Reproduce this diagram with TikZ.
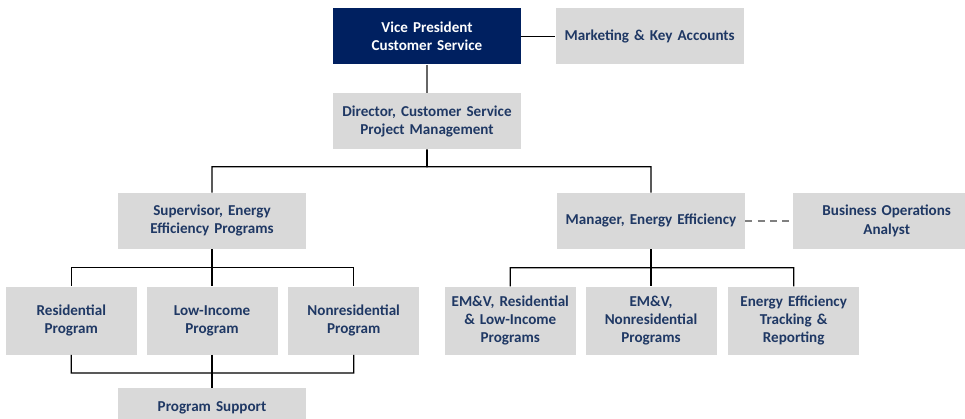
\documentclass[tikz,border=0pt]{standalone}
\usepackage{fontspec}
\setmainfont{Carlito}
\usetikzlibrary{calc,positioning}
\definecolor{navy}{HTML}{002060}
\definecolor{boxtext}{HTML}{1F3864}
\definecolor{boxgray}{HTML}{D9D9D9}
\tikzset{line/.style={draw, line width=0.7pt}}

\begin{document}
\begin{tikzpicture}[node distance = 1cm, font=\bfseries\fontsize{8.6}{10.3}\selectfont]
\tikzstyle{block} = [rectangle, fill=boxgray, text=boxtext, text width=3.7cm, align=center, minimum width=3.76cm, minimum height=1.12cm, inner sep=0pt]
\tikzstyle{small} = [block, text width=2.55cm, minimum width=2.62cm, minimum height=1.36cm]
\tikzstyle{head} = [block, fill=navy, text=white]

\useasboundingbox (0,0) rectangle (19.3,-8.38);

\node [head](vp) at (8.54,-0.73){Vice President\\Customer Service};
\node [block, right=0.68cm of vp](marketing){Marketing \& Key Accounts};
\node [block, below=0.56cm of vp](director){Director, Customer Service\\Project Management};
\node [block, below=0.86cm of director, xshift=-4.3cm](supervisor){Supervisor, Energy\\Efficiency Programs};
\node [block, below=0.86cm of director, xshift=4.48cm](manager){Manager, Energy Efficiency};
\node [block, right=0.94cm of manager](bizops){Business Operations\\Analyst};
\node [small, below=0.74cm of supervisor](lowincome){Low-Income\\Program};
\node [small, left=0.18cm of lowincome](residential){Residential\\Program};
\node [small, right=0.2cm of lowincome](nonres){Nonresidential\\Program};
\node [block, minimum height=0.8cm, below=0.66cm of lowincome](support){Program Support};
\node [small, below=0.74cm of manager](emvnonres){EM\&V,\\Nonresidential\\Programs};
\node [small, left=0.18cm of emvnonres](emvres){EM\&V, Residential\\\& Low-Income\\Programs};
\node [small, right=0.22cm of emvnonres](tracking){Energy Efficiency\\Tracking \&\\Reporting};

\path [line, draw=gray!80!black] (vp.south) -- (director.north);
\path [line] (vp.east) -- (marketing.west);
\path [line, line width=1.1pt] (director.south) -- ($(director.south)!0.4!(supervisor.north-|director.south)$);
\path [line] (director.south) -- ($(director.south)!0.4!(supervisor.north-|director.south)$) -| (supervisor.north);
\path [line] (director.south) -- ($(director.south)!0.4!(supervisor.north-|director.south)$) -| (manager.north);
\path [line, draw=gray, line width=0.9pt, dash pattern=on 4pt off 3pt] (manager.east) -- (bizops.west);
\path [line] (supervisor.south) -- ($(supervisor.south)!0.5!(lowincome.north)$) -| (residential.north);
\path [line] (supervisor.south) -- (lowincome.north);
\path [line] (supervisor.south) -- ($(supervisor.south)!0.5!(lowincome.north)$) -| (nonres.north);
\path [line] (residential.south) -- ($(residential.south)!0.55!(support.north-|residential.south)$) -| (support.north);
\path [line] (lowincome.south) -- (support.north);
\path [line] (nonres.south) -- ($(nonres.south)!0.55!(support.north-|nonres.south)$) -| (support.north);
\path [line, line width=1.1pt] (manager.south) -- (emvnonres.north);
\path [line] (manager.south) -- ($(manager.south)!0.5!(emvnonres.north)$) -| (emvres.north);
\path [line] (manager.south) -- ($(manager.south)!0.5!(emvnonres.north)$) -| (tracking.north);

\end{tikzpicture}
\end{document}
